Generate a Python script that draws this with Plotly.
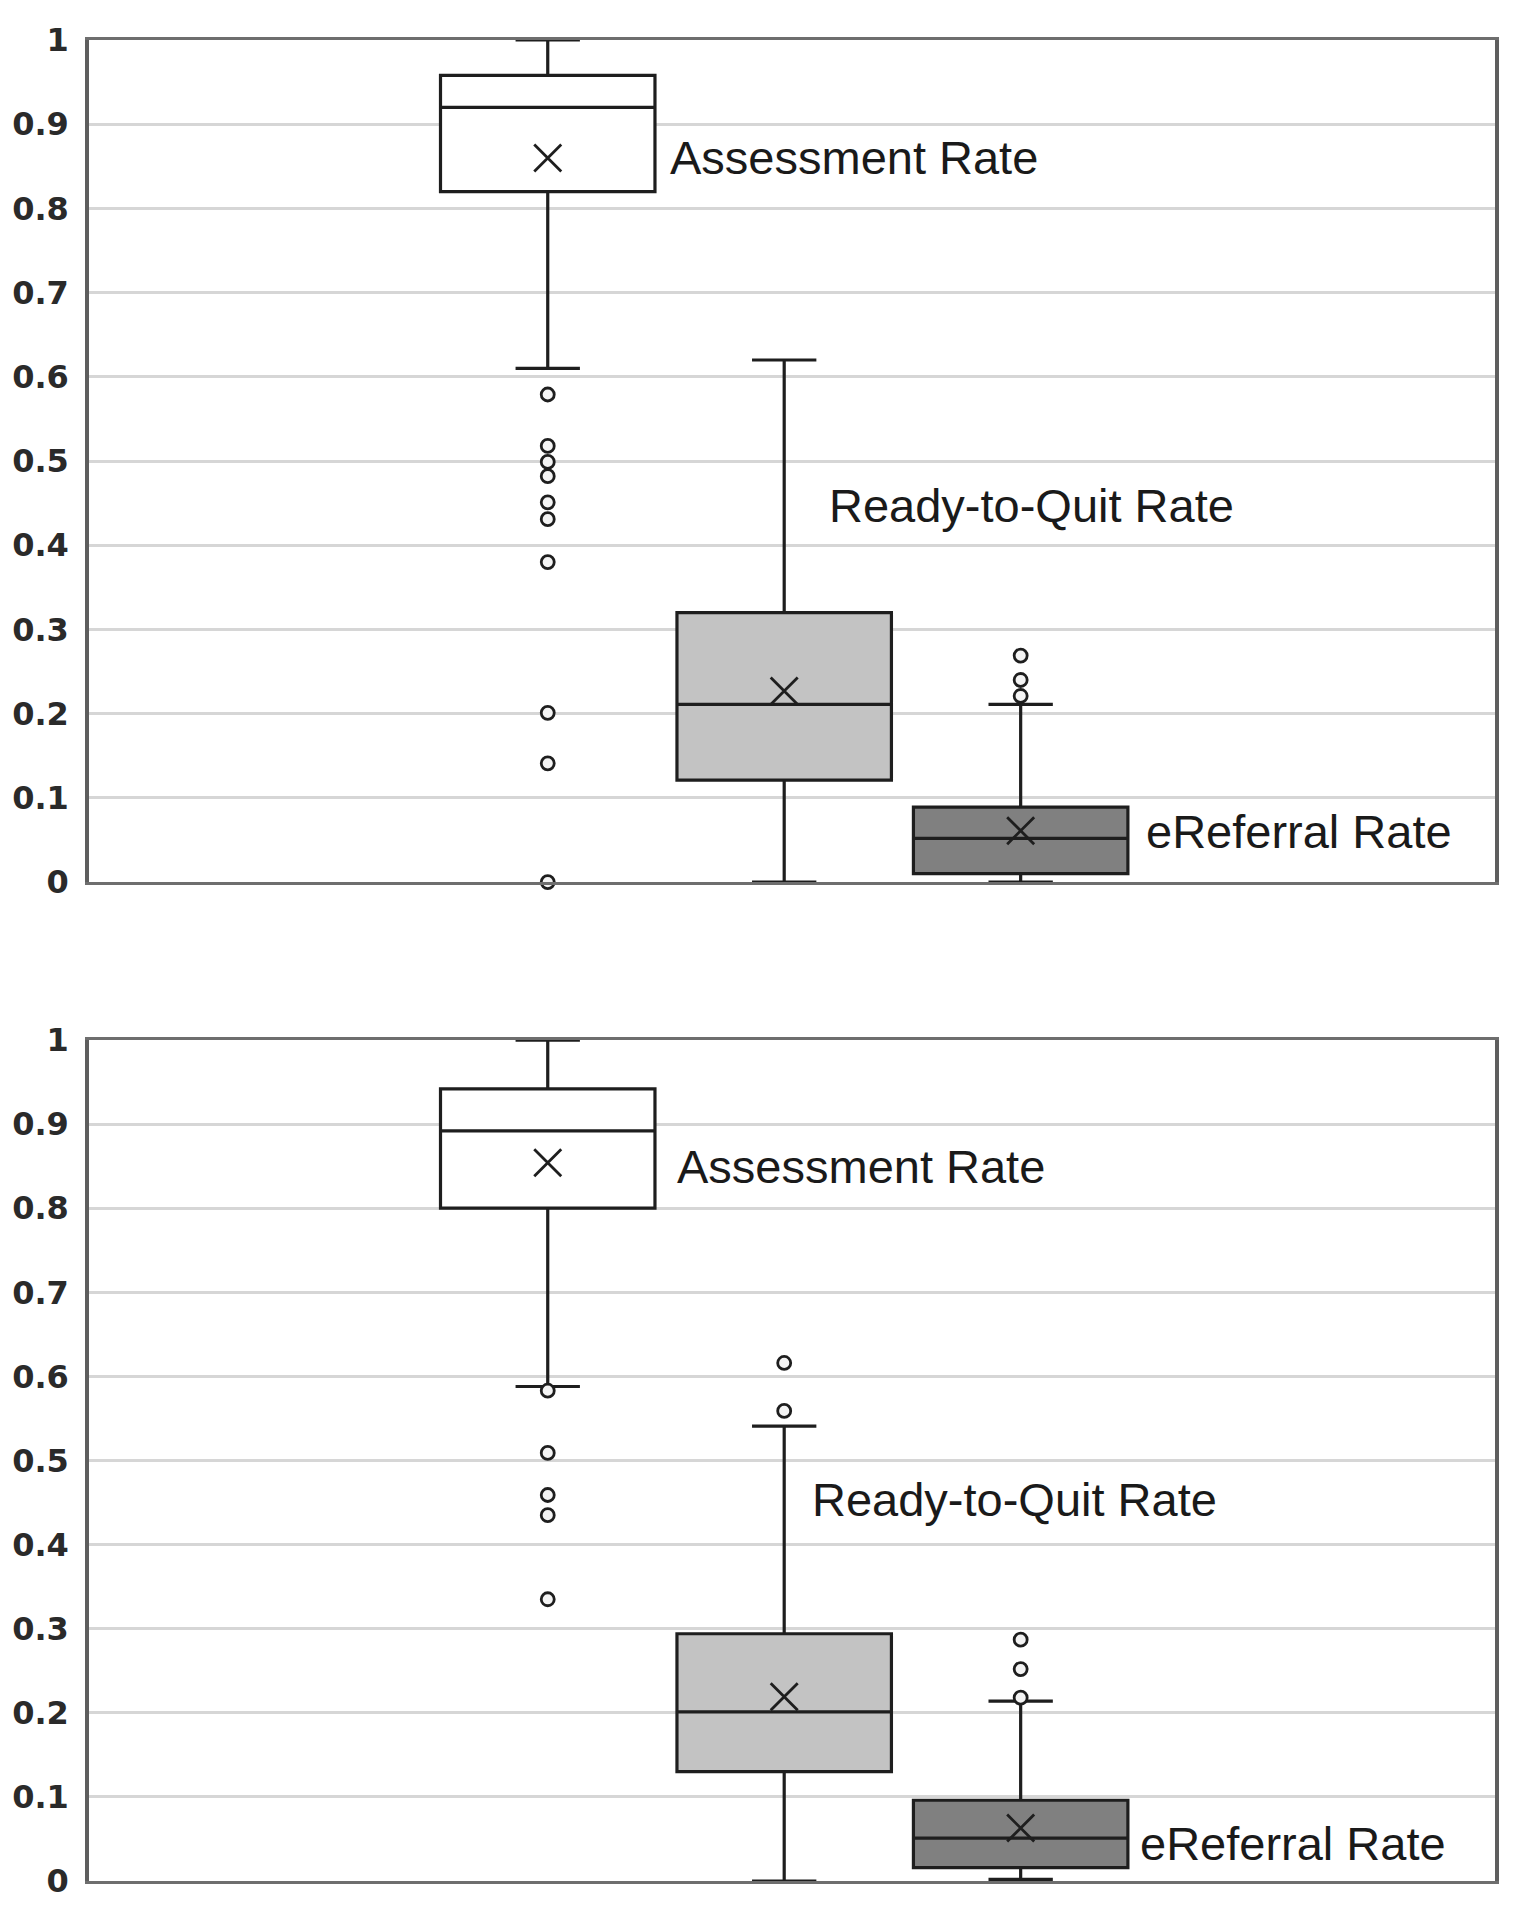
import plotly.graph_objects as go
from plotly.subplots import make_subplots

categories = ["Assessment Rate", "Ready-to-Quit Rate", "eReferral Rate"]
fill_colors = ["#ffffff", "#c3c3c3", "#808080"]

tick_vals = [0, 0.1, 0.2, 0.3, 0.4, 0.5, 0.6, 0.7, 0.8, 0.9, 1.0]
tick_text = ["0", "0.1", "0.2", "0.3", "0.4", "0.5", "0.6", "0.7", "0.8", "0.9", "1"]

# Top panel
top_q1 = [0.82, 0.121, 0.010]
top_median = [0.92, 0.211, 0.052]
top_q3 = [0.958, 0.320, 0.089]
top_lower = [0.61, 0.0, 0.0]
top_upper = [1.0, 0.62, 0.211]
top_mean = [0.86, 0.227, 0.061]
top_outliers = [
    [0.579, 0.518, 0.499, 0.482, 0.451, 0.431, 0.380, 0.201, 0.141, 0.0],
    [],
    [0.269, 0.240, 0.221],
]

# Bottom panel
bot_q1 = [0.80, 0.130, 0.016]
bot_median = [0.892, 0.201, 0.051]
bot_q3 = [0.942, 0.294, 0.096]
bot_lower = [0.588, 0.0, 0.002]
bot_upper = [1.0, 0.541, 0.214]
bot_mean = [0.854, 0.219, 0.063]
bot_outliers = [
    [0.583, 0.509, 0.459, 0.435, 0.335],
    [0.616, 0.559],
    [0.287, 0.252, 0.218],
]

fig = make_subplots(rows=2, cols=1, vertical_spacing=0.0858)

panels = [
    (1, top_q1, top_median, top_q3, top_lower, top_upper, top_mean, top_outliers),
    (2, bot_q1, bot_median, bot_q3, bot_lower, bot_upper, bot_mean, bot_outliers),
]

line_col = "#1e1e1e"
for row, q1, med, q3, lo, up, mn, outs in panels:
    for i, cat in enumerate(categories):
        fig.add_trace(go.Box(
            x=[cat], q1=[q1[i]], median=[med[i]], q3=[q3[i]],
            lowerfence=[lo[i]], upperfence=[up[i]],
            boxpoints=False, width=0.907, whiskerwidth=0.3,
            fillcolor=fill_colors[i], line=dict(color=line_col, width=3.2),
            showlegend=False, hoverinfo="skip",
        ), row=row, col=1)
        if outs[i]:
            fig.add_trace(go.Scatter(
                x=[cat] * len(outs[i]), y=outs[i], mode="markers",
                marker=dict(symbol="circle", size=13, color="#f4f4f4",
                            line=dict(color=line_col, width=2.8)),
                cliponaxis=False, showlegend=False, hoverinfo="skip",
            ), row=row, col=1)
    fig.add_trace(go.Scatter(
        x=categories, y=mn, mode="markers",
        marker=dict(symbol="x-thin-open", size=27, color=line_col,
                    line=dict(color=line_col, width=2.8)),
        showlegend=False, hoverinfo="skip",
    ), row=row, col=1)

label_font = dict(family="Liberation Sans, Arial, sans-serif", size=47, color="#1a1a1a")
labels = [
    (1, 0.508, 0.86, categories[0]),
    (1, 1.181, 0.447, categories[1]),
    (1, 2.523, 0.06, categories[2]),
    (2, 0.539, 0.85, categories[0]),
    (2, 1.109, 0.454, categories[1]),
    (2, 2.497, 0.045, categories[2]),
]
for row, xv, yv, txt in labels:
    xr = "x" if row == 1 else "x2"
    yr = "y" if row == 1 else "y2"
    fig.add_annotation(x=xv, y=yv, xref=xr, yref=yr, text=txt, showarrow=False,
                       xanchor="left", yanchor="middle", font=label_font)

for row in (1, 2):
    fig.update_xaxes(type="category", categoryorder="array", categoryarray=categories,
                     range=[-1.94, 4.006], showticklabels=False, showgrid=False,
                     zeroline=False, showline=True, linecolor="#6e6e6e", linewidth=3,
                     mirror=True, ticks="", automargin=False, row=row, col=1)
    fig.update_yaxes(range=[0, 1], tickvals=tick_vals, ticktext=tick_text,
                     showgrid=True, gridcolor="#d6d6d6", gridwidth=2.5,
                     zeroline=False, showline=True, linecolor="#5e5e5e", linewidth=3.5,
                     mirror=True, ticks="", ticklabelstandoff=10, automargin=False,
                     tickfont=dict(family="DejaVu Sans", size=32, color="#2a2a2a", weight="bold"),
                     row=row, col=1)

fig.update_layout(
    width=1522, height=1920,
    margin=dict(l=81, r=35, t=32, b=47),
    paper_bgcolor="#ffffff", plot_bgcolor="#ffffff",
    boxmode="overlay",
)
fig.update_layout(yaxis=dict(domain=[0.5426, 1.0]), yaxis2=dict(domain=[0.0, 0.4568]))

fig.write_html("out.html")
